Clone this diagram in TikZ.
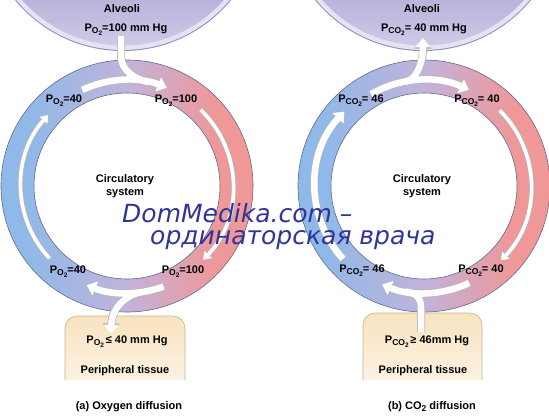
\documentclass[tikz,border=0pt]{standalone}
\usepackage{fontspec}
\setmainfont{Liberation Sans}
\newfontfamily\wmfont{DejaVu Sans}
\usetikzlibrary{arrows.meta,calc}

\definecolor{ringblue}{HTML}{8FB9E8}
\definecolor{ringmid}{HTML}{C2B3DC}
\definecolor{ringred}{HTML}{F09797}
\definecolor{ringedge}{HTML}{5F6C8C}
\definecolor{alvtop}{HTML}{B9B4DA}
\definecolor{alvbot}{HTML}{D0CDEA}
\definecolor{alvrim}{HTML}{E4E2F3}
\definecolor{alvedge}{HTML}{8E8CB8}
\definecolor{tissuefill}{HTML}{F8E3BF}
\definecolor{tissueedge}{HTML}{C9B48E}
\definecolor{wmblue}{HTML}{30349A}

% Blue on the left, red on the right, lavender between.
\pgfdeclarehorizontalshading{ringshade}{100bp}{color(0bp)=(ringblue); color(30bp)=(ringblue); color(50bp)=(ringmid); color(68bp)=(ringred); color(100bp)=(ringred)}

\newcommand{\subi}[1]{\raisebox{-2.6pt}{\fontsize{8.5}{8.5}\selectfont #1}}
\newcommand{\subii}[1]{\raisebox{-2.2pt}{\fontsize{6.5}{6.5}\selectfont #1}}
\newcommand{\pOtwo}{P\subi{O\subii{2}}}
\newcommand{\pCOtwo}{P\subi{CO\subii{2}}}

\tikzset{
  lbl/.style={font=\fontsize{11}{13}\selectfont\bfseries, anchor=base, inner sep=0pt},
  wm/.style={font=\wmfont\itshape\fontsize{25}{22}\selectfont, text=wmblue, align=left, inner sep=0pt},
  flow/.style={white, line width=6.5pt, -{Triangle[width=15pt,length=9pt,line width=0.5pt]}},
  flowedge/.style={black!28, line width=8pt, -{Triangle[width=17pt,length=10.5pt,line width=0.5pt]}},
  thinflow/.style={white, line width=3.6pt, -{Triangle[width=10pt,length=7pt,line width=0.5pt]}},
  thinedge/.style={black!28, line width=5pt, -{Triangle[width=12pt,length=8.5pt,line width=0.5pt]}},
  shaft/.style={white, line width=6.5pt},
  shaftedge/.style={black!28, line width=8pt},
  ringpart/.style={draw=ringedge, line width=0.6pt, even odd rule, shading=ringshade},
  tissue/.style={draw=tissueedge, line width=0.6pt, top color=tissuefill, bottom color=tissuefill!45},
}

\begin{document}
\begin{tikzpicture}[x=1pt,y=-1pt]
  \useasboundingbox (0,0) rectangle (549,416);

  % Define ring parameters (px of the page).
  \def\Rout{126}     %outer radius of the blood ring.
  \def\Rin{93}       %inner radius of the blood ring.
  \def\Ralv{139}     %radius of the alveoli cap.

  % Define coordinates.
  \coordinate (ca) at (127,186);     %ring centre, oxygen.
  \coordinate (cb) at (424,186);     %ring centre, carbon dioxide.
  \coordinate (alva) at (123,-89);
  \coordinate (alvb) at (423,-89);

  % TISSUE boxes
  \draw[tissue] (65,380) [rounded corners=12pt] -- (65,316) -- (185,316) -- (185,380);
  \draw[tissue] (363,380) [rounded corners=12pt] -- (363,313) -- (482,313) -- (482,380);

  % ALVEOLI caps
  \foreach \c in {alva,alvb}{
    \fill[alvedge] (\c) circle[radius=\Ralv+1];
    \fill[alvrim] (\c) circle[radius=\Ralv];
    \begin{scope}
      \clip (\c) circle[radius=\Ralv-4.5];
      \shade[top color=alvtop, bottom color=alvbot] ($(\c)+(-150,89)$) rectangle ($(\c)+(150,140)$);
    \end{scope}
  }

  % BLOOD rings
  \shadedraw[ringpart] (ca) circle[radius=\Rout] (ca) circle[radius=\Rin];
  \shadedraw[ringpart] (cb) circle[radius=\Rout] (cb) circle[radius=\Rin];

  % Oxygen flows.
  \draw[shaftedge] (121,36) -- (121,56) .. controls (121,70) and (134,79) .. (149,82.3);
  \draw[flowedge] (ca) ++(-115:106) arc[start angle=-115,end angle=-68,radius=106];
  \draw[shaft] (121,36) -- (121,56) .. controls (121,70) and (134,79) .. (149,82.3);
  \draw[flow] (ca) ++(-115:106) arc[start angle=-115,end angle=-68,radius=106];
  \draw[thinedge] (ca) ++(-46:106) arc[start angle=-46,end angle=44,radius=106];
  \draw[thinflow] (ca) ++(-46:106) arc[start angle=-46,end angle=44,radius=106];
  \draw[flowedge] (141.9,292) .. controls (130,293.7) and (112,305) .. (111,334);
  \draw[flowedge] (ca) ++(70:107) arc[start angle=70,end angle=112,radius=107];
  \draw[flow] (141.9,292) .. controls (130,293.7) and (112,305) .. (111,334);
  \draw[flow] (ca) ++(70:107) arc[start angle=70,end angle=112,radius=107];
  \draw[thinedge] (ca) ++(137:106) arc[start angle=137,end angle=222,radius=106];
  \draw[thinflow] (ca) ++(137:106) arc[start angle=137,end angle=222,radius=106];

  % Carbon dioxide flows.
  \draw[flowedge] (405.6,81.6) .. controls (417,79.6) and (423,62) .. (423,38);
  \draw[flowedge] (cb) ++(-120:106) arc[start angle=-120,end angle=-65,radius=106];
  \draw[flow] (405.6,81.6) .. controls (417,79.6) and (423,62) .. (423,38);
  \draw[flow] (cb) ++(-120:106) arc[start angle=-120,end angle=-65,radius=106];
  \draw[thinedge] (cb) ++(-45:107) arc[start angle=-45,end angle=44,radius=107];
  \draw[thinflow] (cb) ++(-45:107) arc[start angle=-45,end angle=44,radius=107];
  \draw[shaftedge] (421,332) -- (421,308) .. controls (421,298) and (417,293.5) .. (405.4,291.4);
  \draw[flowedge] (cb) ++(65:107) arc[start angle=65,end angle=113,radius=107];
  \draw[shaft] (421,332) -- (421,308) .. controls (421,298) and (417,293.5) .. (405.4,291.4);
  \draw[flow] (cb) ++(65:107) arc[start angle=65,end angle=113,radius=107];
  \draw[flowedge] (cb) ++(138:109) arc[start angle=138,end angle=223,radius=109];
  \draw[flow] (cb) ++(138:109) arc[start angle=138,end angle=223,radius=109];

  % Labels, oxygen.
  \node[lbl] (alva name) at (122,12) {Alveoli};
  \node[lbl] (alva p) at (126,31) {\pOtwo=100 mm Hg};
  \node[lbl] (oxy tl) at (64,102) {\pOtwo=40};
  \node[lbl] (oxy tr) at (176,102) {\pOtwo=100};
  \node[lbl] (oxy bl) at (68,273) {\pOtwo=40};
  \node[lbl] (oxy br) at (183,273) {\pOtwo=100};
  \node[lbl, align=center, anchor=center] (circa) at (125,186) {Circulatory\\system};
  \node[lbl] (tisa p) at (127,343) {\pOtwo\,≤ 40 mm Hg};
  \node[lbl] (tisa name) at (125,373) {Peripheral tissue};
  \node[lbl] (capa) at (129,409) {(a) Oxygen diffusion};

  % Labels, carbon dioxide.
  \node[lbl] (alvb name) at (422,12) {Alveoli};
  \node[lbl] (alvb p) at (424,31) {\pCOtwo= 40 mm Hg};
  \node[lbl] (car tl) at (361,102) {\pCOtwo= 46};
  \node[lbl] (car tr) at (477,102) {\pCOtwo= 40};
  \node[lbl] (car bl) at (362,272) {\pCOtwo= 46};
  \node[lbl] (car br) at (481,272) {\pCOtwo= 40};
  \node[lbl, align=center, anchor=center] (circb) at (422,186) {Circulatory\\system};
  \node[lbl] (tisb p) at (427,343) {\pCOtwo\,≥ 46mm Hg};
  \node[lbl] (tisb name) at (423,373) {Peripheral tissue};
  \node[lbl] (capb) at (432,409) {(b) CO\subi{2} diffusion};

  % Watermark
  \node[wm, anchor=north west] (wmark) at (122,203.5) {DomMedika.com –\\\hspace*{28pt}ординаторская врача};
\end{tikzpicture}
\end{document}
